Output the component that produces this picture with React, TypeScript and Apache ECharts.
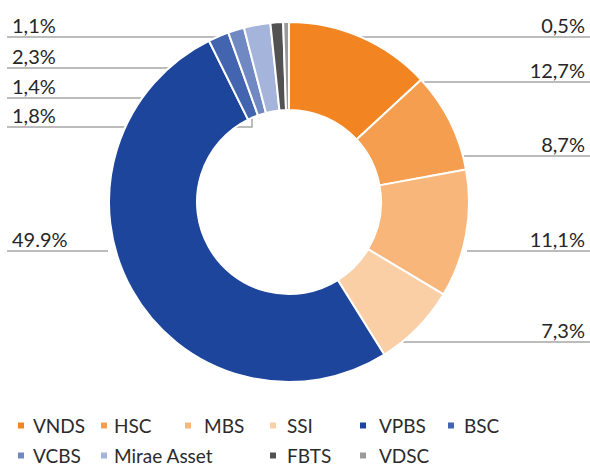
import React, { useEffect, useRef } from "react";
import * as echarts from "echarts";

const categories = ["VNDS", "HSC", "MBS", "SSI", "VPBS", "BSC", "VCBS", "Mirae Asset", "FBTS", "VDSC"];
const shares = [12.7, 8.7, 11.1, 7.3, 49.9, 1.8, 1.4, 2.3, 1.1, 0.5];
const shareLabels = ["12,7%", "8,7%", "11,1%", "7,3%", "49.9%", "1,8%", "1,4%", "2,3%", "1,1%", "0,5%"];
const colors = ["#F28522", "#F69E50", "#F8B67B", "#FACFA5", "#1D459B", "#4365AF", "#7189C3", "#A4B4DA", "#525252", "#9A9A9A"];

// label placement (layout, px)
const labelSide = ["right", "right", "right", "right", "left", "left", "left", "left", "left", "right"];
const labelLineY = [82, 156, 251, 342, 251, 127, 98, 68, 37, 37];
const labelAnchorX = [397, 457, 467, 403, 108, 252, 251, 263, 279, 289];
const labelAnchorY = [82, 156, 251, 342, 251, 112, 98, 68, 37, 37];

// legend placement (layout, px)
const legendCols = [16, 99, 183, 268, 358, 446];
const legendTextGap = [8, 6, 12, 10, 12, 9];
const legendRows = [425, 455];
const legendSlots = [
  [0, 0], [0, 1], [0, 2], [0, 3], [0, 4], [0, 5],
  [1, 0], [1, 1], [1, 3], [1, 4],
];

const FONT = "Lato, 'Noto Sans', sans-serif";
const W = 590;
const H = 466;

export default function App() {
  const ref = useRef<HTMLDivElement>(null);
  useEffect(() => {
    document.body.style.margin = "0";
    if (!ref.current) return;
    const chart = echarts.init(ref.current, null, { renderer: "svg" });
    const legends = categories.map((name, i) => {
      const [r, c] = legendSlots[i];
      return {
        data: [name],
        left: legendCols[c],
        top: legendRows[r] - 9,
        icon: "rect",
        itemWidth: 8,
        itemHeight: 8,
        itemGap: 0,
        padding: 0,
        selectedMode: false,
        textStyle: {
          fontSize: 19,
          lineHeight: 18,
          color: "#2B2B2B",
          fontFamily: FONT,
          padding: [0, 0, 0, legendTextGap[c] - 5],
        },
      };
    });
    chart.setOption({
      animation: false,
      backgroundColor: "#FFFFFF",
      color: colors,
      legend: legends,
      series: [
        {
          type: "pie",
          center: [289, 202],
          radius: [92, 180],
          startAngle: 90,
          clockwise: true,
          avoidLabelOverlap: false,
          itemStyle: { borderColor: "#FFFFFF", borderWidth: 2 },
          emphasis: { disabled: true },
          data: categories.map((name, i) => ({ name, value: shares[i] })),
          label: {
            show: true,
            position: "outside",
            formatter: (p: any) => shareLabels[p.dataIndex],
            fontSize: 20,
            fontFamily: FONT,
            color: "#262626",
          },
          labelLine: {
            show: true,
            length: 10,
            length2: 10,
            smooth: false,
            lineStyle: { color: "#A6A6A6", width: 1.5 },
          },
          labelLayout: (p: any) => {
            const i = p.dataIndex;
            const right = labelSide[i] === "right";
            const y = labelLineY[i];
            const edge = right ? W : 7;
            return {
              x: right ? 585 : 12,
              y: y - 12,
              align: right ? "right" : "left",
              verticalAlign: "middle",
              labelLinePoints: [
                [labelAnchorX[i], labelAnchorY[i]],
                [labelAnchorX[i], y],
                [edge, y],
              ],
            };
          },
        },
      ],
    });
    return () => chart.dispose();
  }, []);
  return <div ref={ref} style={{ width: W, height: H }} />;
}
